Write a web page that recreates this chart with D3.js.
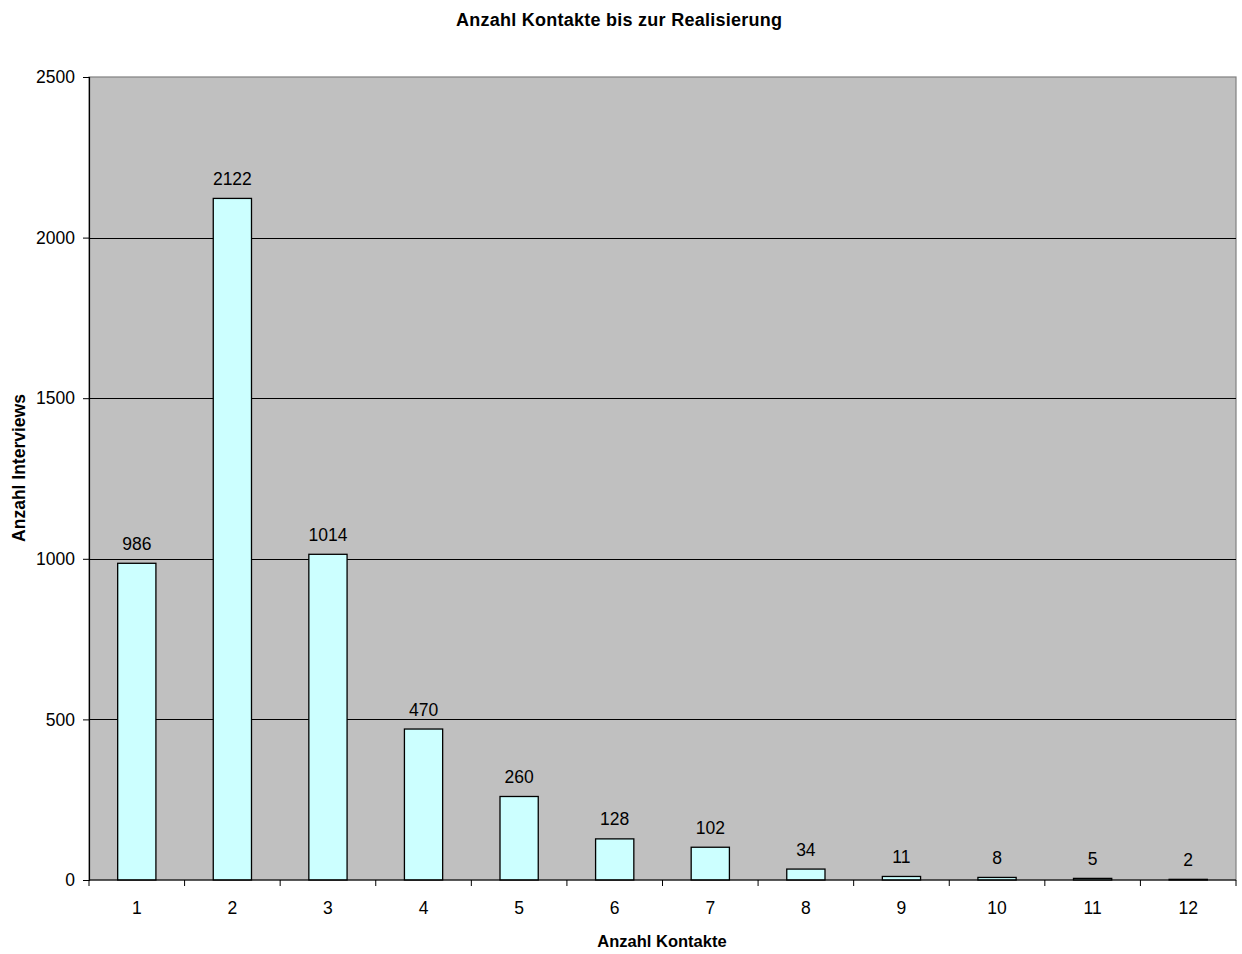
<!DOCTYPE html>
<html>
<head>
<meta charset="utf-8">
<script src="https://cdn.jsdelivr.net/npm/d3@7"></script>
<style>
  body { margin: 0; background: #fff; }
  svg { display: block; font-family: "Liberation Sans", Arial, sans-serif; }
</style>
</head>
<body>
<svg id="chart" width="1242" height="954"></svg>
<script>
// Number of contacts needed until an interview was completed
const categories = ["1", "2", "3", "4", "5", "6", "7", "8", "9", "10", "11", "12"];
const interviews = [986, 2122, 1014, 470, 260, 128, 102, 34, 11, 8, 5, 2];
const yTicks = [0, 500, 1000, 1500, 2000, 2500];

const title = "Anzahl Kontakte bis zur Realisierung";
const xTitle = "Anzahl Kontakte";
const yTitle = "Anzahl Interviews";

const svg = d3.select("#chart");
const plot = { left: 89, right: 1236, top: 77, bottom: 880 };
const labelSize = 17.5;

const x = d3.scaleBand()
  .domain(categories)
  .range([plot.left, plot.right])
  .paddingInner(0.6)
  .paddingOuter(0.3);

const xEdge = d3.scaleLinear().domain([0, categories.length]).range([plot.left, plot.right]);

const y = d3.scaleLinear().domain([0, 2500]).range([plot.bottom, plot.top]);

// plot background
svg.append("rect")
  .attr("x", plot.left).attr("y", plot.top)
  .attr("width", plot.right - plot.left).attr("height", plot.bottom - plot.top)
  .attr("fill", "#c0c0c0")
  .attr("stroke", "#808080").attr("stroke-width", 1.2);

// gridlines
svg.append("g").selectAll("line")
  .data(yTicks.filter(d => d > 0 && d < 2500))
  .join("line")
  .attr("x1", plot.left).attr("x2", plot.right)
  .attr("y1", d => Math.round(y(d)) + 0.5).attr("y2", d => Math.round(y(d)) + 0.5)
  .attr("stroke", "#000").attr("stroke-width", 1);

// bars
svg.append("g").selectAll("rect")
  .data(interviews)
  .join("rect")
  .attr("x", (d, i) => x(categories[i]))
  .attr("y", d => y(d))
  .attr("width", x.bandwidth())
  .attr("height", d => y(0) - y(d))
  .attr("fill", "#ccffff")
  .attr("stroke", "#000").attr("stroke-width", 1.3);

// value labels
svg.append("g").selectAll("text")
  .data(interviews)
  .join("text")
  .attr("x", (d, i) => x(categories[i]) + x.bandwidth() / 2)
  .attr("y", d => y(d) - 13.5)
  .attr("text-anchor", "middle")
  .attr("font-size", labelSize)
  .attr("fill", "#000")
  .text(d => d);

// y axis
const yAxis = d3.axisLeft(y).tickValues(yTicks).tickSize(6).tickPadding(8).tickFormat(d3.format("d"));
const gy = svg.append("g").attr("transform", `translate(${plot.left},0)`).call(yAxis);
gy.select(".domain").attr("stroke", "#000").attr("stroke-width", 1.2);
gy.selectAll(".tick line").attr("stroke", "#000");
gy.selectAll(".tick text").attr("font-size", labelSize).attr("fill", "#000").attr("font-family", "Liberation Sans, Arial, sans-serif");

// x axis line and category boundary ticks
const gx = svg.append("g");
gx.append("line")
  .attr("x1", plot.left).attr("x2", plot.right)
  .attr("y1", plot.bottom).attr("y2", plot.bottom)
  .attr("stroke", "#000").attr("stroke-width", 1.2);
gx.selectAll("line.tick")
  .data(d3.range(categories.length + 1))
  .join("line")
  .attr("class", "tick")
  .attr("x1", d => xEdge(d)).attr("x2", d => xEdge(d))
  .attr("y1", plot.bottom).attr("y2", plot.bottom + 6)
  .attr("stroke", "#000");
gx.selectAll("text")
  .data(categories)
  .join("text")
  .attr("x", d => x(d) + x.bandwidth() / 2)
  .attr("y", plot.bottom + 34)
  .attr("text-anchor", "middle")
  .attr("font-size", labelSize)
  .attr("fill", "#000")
  .text(d => d);

// titles
svg.append("text")
  .attr("x", 619).attr("y", 26)
  .attr("text-anchor", "middle")
  .attr("font-size", 18).attr("font-weight", "bold")
  .attr("textLength", 326).attr("lengthAdjust", "spacing")
  .text(title);

svg.append("text")
  .attr("x", 662).attr("y", 947)
  .attr("text-anchor", "middle")
  .attr("font-size", 16.5).attr("font-weight", "bold")
  .text(xTitle);

svg.append("text")
  .attr("transform", `translate(25,468) rotate(-90)`)
  .attr("text-anchor", "middle")
  .attr("font-size", 17.5).attr("font-weight", "bold")
  .text(yTitle);
</script>
</body>
</html>
